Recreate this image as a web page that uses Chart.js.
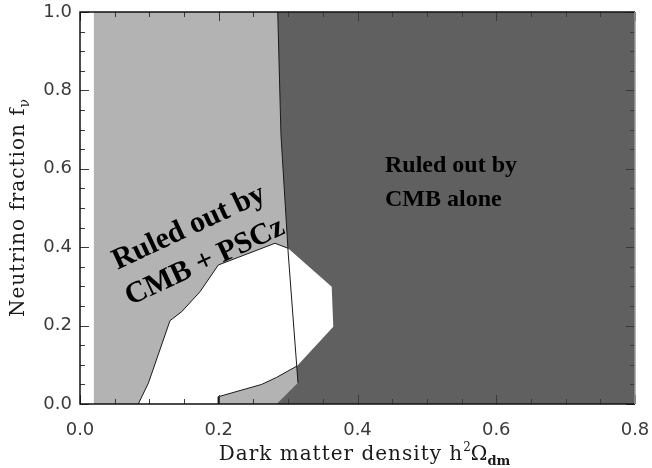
<!DOCTYPE html>
<html>
<head>
<meta charset="utf-8">
<script src="https://cdn.jsdelivr.net/npm/chart.js@4.4.1/dist/chart.umd.min.js"></script>
<style>
  html, body { margin: 0; padding: 0; background: #ffffff; }
  canvas { display: block; }
</style>
</head>
<body>
<canvas id="c" width="652" height="468"></canvas>
<script>
// Constraints on the neutrino fraction vs. dark matter density plane

// Axis tick values and labels
const xTicks = [0.0, 0.2, 0.4, 0.6, 0.8];
const xTickLabels = ['0.0', '0.2', '0.4', '0.6', '0.8'];
const yTicks = [0.0, 0.2, 0.4, 0.6, 0.8, 1.0];
const yTickLabels = ['0.0', '0.2', '0.4', '0.6', '0.8', '1.0'];

// Region ruled out by CMB + PSCz (light grey)
const psczX = [0.020, 0.800, 0.800, 0.020];
const psczY = [0.000, 0.000, 1.000, 1.000];

// Region ruled out by CMB alone (dark grey)
const cmbX = [0.2850, 0.800, 0.800, 0.2835, 0.3142, 0.3124, 0.3003, 0.2897];
const cmbY = [1.000, 1.000, 0.000, 0.000, 0.054, 0.097, 0.380, 0.686];

// CMB-alone boundary curve, drawn as a thin line
const cmbEdgeX = [0.2850, 0.2897, 0.3003, 0.3124, 0.3142];
const cmbEdgeY = [1.000, 0.686, 0.380, 0.097, 0.054];

// Allowed region (white)
const allowedX = [0.0840, 0.0985, 0.1297, 0.1466, 0.1730, 0.1994, 0.2811, 0.3003,
                  0.3628, 0.3651, 0.3128, 0.2835, 0.2619, 0.1994, 0.1994];
const allowedY = [0.000, 0.053, 0.2125, 0.2355, 0.2865, 0.3546, 0.410, 0.397,
                  0.299, 0.197, 0.097, 0.068, 0.050, 0.0186, 0.000];

// Outlined edges of the allowed region
const upperEdgeX = allowedX.slice(0, 8);
const upperEdgeY = allowedY.slice(0, 8);
const lowerEdgeX = allowedX.slice(10);
const lowerEdgeY = allowedY.slice(10);

const toPoints = (xs, ys) => xs.map((x, i) => ({ x: x, y: ys[i] }));
const closed = (xs, ys) => { const p = toPoints(xs, ys); p.push({ ...p[0] }); return p; };

const area = (data, color, order) => ({
  data: data, order: order, showLine: true, pointRadius: 0, borderWidth: 0,
  borderColor: color, backgroundColor: color, fill: 'shape', tension: 0
});
const edge = (data) => ({
  data: data, order: 0, showLine: true, pointRadius: 0, borderWidth: 1,
  borderColor: '#1a1a1a', fill: false, tension: 0
});

// Frame, inward ticks, axis titles and region labels
const decorations = {
  id: 'decorations',
  afterDatasetsDraw(chart) {
    const ctx = chart.ctx;
    const xs = chart.scales.x, ys = chart.scales.y;
    const a = chart.chartArea;
    ctx.save();

    // ticks
    ctx.strokeStyle = '#3a3a3a';
    ctx.lineWidth = 1;
    for (let i = 0; i <= 16; i++) {
      const v = i * 0.05;
      const px = Math.round(xs.getPixelForValue(v)) + 0.5;
      const len = (i % 4 === 0) ? 9 : 5;
      ctx.beginPath();
      ctx.moveTo(px, a.bottom); ctx.lineTo(px, a.bottom - len);
      ctx.moveTo(px, a.top); ctx.lineTo(px, a.top + len);
      ctx.stroke();
    }
    for (let i = 0; i <= 20; i++) {
      const v = i * 0.05;
      const py = Math.round(ys.getPixelForValue(v)) + 0.5;
      const len = (i % 4 === 0) ? 9 : 5;
      ctx.beginPath();
      ctx.moveTo(a.left, py); ctx.lineTo(a.left + len, py);
      ctx.moveTo(a.right, py); ctx.lineTo(a.right - len, py);
      ctx.stroke();
    }

    // frame
    ctx.lineWidth = 1.5;
    ctx.strokeStyle = '#111';
    ctx.beginPath();
    ctx.moveTo(a.right, a.top); ctx.lineTo(a.left, a.top);
    ctx.lineTo(a.left, a.bottom); ctx.lineTo(a.right, a.bottom);
    ctx.stroke();
    ctx.strokeStyle = '#9a9a9a';
    ctx.beginPath();
    ctx.moveTo(a.right, a.top); ctx.lineTo(a.right, a.bottom);
    ctx.stroke();

    // axis titles with sub/superscripts
    const drawRich = (parts, cx, baseY) => {
      let w = 0;
      parts.forEach(p => {
        ctx.font = p.font; ctx.letterSpacing = p.ls || '0px';
        p.w = ctx.measureText(p.t).width; w += p.w;
      });
      let x = cx - w / 2;
      ctx.textAlign = 'left';
      ctx.textBaseline = 'alphabetic';
      parts.forEach(p => {
        ctx.font = p.font; ctx.letterSpacing = p.ls || '0px';
        ctx.fillText(p.t, x, baseY + p.dy); x += p.w;
      });
      ctx.letterSpacing = '0px';
    };
    ctx.fillStyle = '#1a1a1a';
    drawRich([
      { t: 'Dark matter density h', font: '20px "DejaVu Serif"', ls: '1px', dy: 0 },
      { t: '2', font: '12px "DejaVu Serif"', dy: -9 },
      { t: 'Ω', font: '20px "DejaVu Serif"', dy: 0 },
      { t: 'dm', font: 'bold 13px "DejaVu Serif"', dy: 5 }
    ], (a.left + a.right) / 2 + 7, 460);

    ctx.save();
    ctx.translate(24, (a.top + a.bottom) / 2);
    ctx.rotate(-Math.PI / 2);
    drawRich([
      { t: 'Neutrino fraction f', font: '20px "DejaVu Serif"', ls: '1px', dy: 0 },
      { t: 'ν', font: '14px "DejaVu Serif"', dy: 5 }
    ], 0, 0);
    ctx.restore();

    // region labels
    ctx.fillStyle = '#000';
    ctx.font = 'bold 24px "Liberation Serif"';
    ctx.textAlign = 'left';
    ctx.textBaseline = 'middle';
    const lx = xs.getPixelForValue(0.4396);
    ctx.fillText('Ruled out by', lx, ys.getPixelForValue(0.608));
    ctx.fillText('CMB alone', lx, ys.getPixelForValue(0.520));

    ctx.save();
    ctx.translate(xs.getPixelForValue(0.1686), ys.getPixelForValue(0.4056));
    ctx.rotate(-25 * Math.PI / 180);
    ctx.font = 'bold 30px "Liberation Serif"';
    ctx.textAlign = 'center';
    ctx.textBaseline = 'middle';
    ctx.fillText('Ruled out by', 0, -19);
    ctx.fillText('CMB + PSCz', 0, 19);
    ctx.restore();

    ctx.restore();
  }
};

new Chart(document.getElementById('c'), {
  type: 'scatter',
  data: {
    datasets: [
      edge(toPoints(cmbEdgeX, cmbEdgeY)),
      edge(toPoints(upperEdgeX, upperEdgeY)),
      edge(toPoints(lowerEdgeX, lowerEdgeY)),
      area(closed(allowedX, allowedY), '#ffffff', 1),
      area(closed(cmbX, cmbY), '#606060', 2),
      area(closed(psczX, psczY), '#b3b3b3', 3)
    ]
  },
  options: {
    responsive: false,
    animation: false,
    devicePixelRatio: 1,
    layout: { padding: { left: 0, top: 12, right: 17, bottom: 0 } },
    plugins: { legend: { display: false }, tooltip: { enabled: false } },
    scales: {
      x: {
        type: 'linear', min: 0, max: 0.8,
        afterFit(s) { s.height = 64; s.paddingLeft = 0; s.paddingRight = 0; },
        afterBuildTicks(s) { s.ticks = xTicks.map(v => ({ value: v })); },
        grid: { display: false, drawTicks: false },
        border: { display: false },
        ticks: {
          padding: 16, color: '#3a3a3a', maxRotation: 0, autoSkip: false,
          font: { family: 'DejaVu Sans', size: 18 },
          callback: (v, i) => xTickLabels[i]
        }
      },
      y: {
        type: 'linear', min: 0, max: 1.0,
        afterFit(s) { s.width = 80; s.paddingTop = 0; s.paddingBottom = 0; },
        afterBuildTicks(s) { s.ticks = yTicks.map(v => ({ value: v })); },
        grid: { display: false, drawTicks: false },
        border: { display: false },
        ticks: {
          padding: 8, color: '#3a3a3a', autoSkip: false,
          font: { family: 'DejaVu Sans', size: 18 },
          callback: (v, i) => yTickLabels[i]
        }
      }
    }
  },
  plugins: [decorations]
});
</script>
</body>
</html>
